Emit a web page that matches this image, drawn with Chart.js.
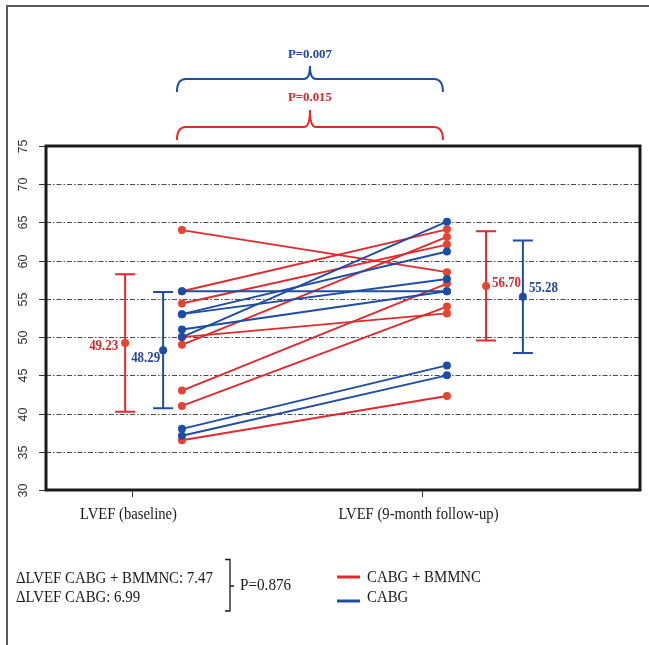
<!DOCTYPE html>
<html>
<head>
<meta charset="utf-8">
<script src="https://cdn.jsdelivr.net/npm/chart.js@4.4.1/dist/chart.umd.min.js"></script>
<style>
  html, body { margin: 0; padding: 0; background: #fff; }
  #wrap { width: 649px; height: 645px; }
</style>
</head>
<body>
<div id="wrap"><canvas id="c" width="649" height="645"></canvas></div>
<script>
// Time points and y-axis ticks
const timepoints = ['LVEF (baseline)', 'LVEF (9-month follow-up)'];
const yTicks = [30, 35, 40, 45, 50, 55, 60, 65, 70, 75];

// LVEF (%) per patient, baseline -> 9-month follow-up
const bmmncBaseline = [64.0, 56.0, 54.4, 50.0, 49.0, 43.0, 41.0, 36.5];
const bmmncFollowUp = [58.5, 64.1, 62.1, 53.1, 63.1, 57.0, 54.0, 42.3];
const cabgBaseline  = [56.0, 53.0, 53.0, 51.0, 50.0, 38.0, 37.1];
const cabgFollowUp  = [56.0, 61.2, 57.6, 56.0, 65.1, 46.3, 45.0];

// Group mean and standard deviation per time point
const bmmncMean = [49.23, 56.70];
const bmmncSD   = [9.0, 7.15];
const cabgMean  = [48.29, 55.28];
const cabgSD    = [7.6, 7.35];

// Statistics shown above and below the plot
const pBaselineVsFollowUp = { bmmnc: 'P=0.015', cabg: 'P=0.007' };
const deltaLVEF = { bmmnc: '7.47', cabg: '6.99' };
const pDelta = 'P=0.876';
const groupNames = ['CABG + BMMNC', 'CABG'];

// Horizontal placement on the linear x scale (time point ticks sit at 1 and 2)
const X_MIN = 0.703, X_MAX = 2.752;
const tickX = [1, 2];
const pairX = [1.172, 2.086];
const bmmncBarX = [0.976, 2.221];
const cabgBarX = [1.107, 2.348];

const RED = '#e02a2c', RED_PT = '#e8432f', RED_TXT = '#d52a2a';
const BLUE = '#1f4da3', BLUE_PT = '#1d4ca6', BLUE_TXT = '#23469b';
const SERIF = '"Liberation Serif", "Times New Roman", serif';
const SANS = '"Liberation Sans", Arial, sans-serif';

function pairDataset(b, f, color, ptColor, order) {
  return {
    data: [{ x: pairX[0], y: b }, { x: pairX[1], y: f }],
    showLine: true,
    borderColor: color,
    borderWidth: 1.9,
    pointRadius: 4,
    pointHoverRadius: 4,
    pointBackgroundColor: ptColor,
    pointBorderWidth: 0,
    order: order
  };
}

const datasets = [];
bmmncBaseline.forEach((b, i) => datasets.push(pairDataset(b, bmmncFollowUp[i], RED, RED_PT, 3)));
cabgBaseline.forEach((b, i) => datasets.push(pairDataset(b, cabgFollowUp[i], BLUE, BLUE_PT, 2)));
datasets.push({
  data: bmmncMean.map((m, i) => ({ x: bmmncBarX[i], y: m })),
  pointRadius: 4, pointHoverRadius: 4, pointBackgroundColor: RED_PT, pointBorderWidth: 0, order: 1
});
datasets.push({
  data: cabgMean.map((m, i) => ({ x: cabgBarX[i], y: m })),
  pointRadius: 4, pointHoverRadius: 4, pointBackgroundColor: BLUE_PT, pointBorderWidth: 0, order: 1
});

function text(ctx, s, x, y, font, color, align, sx) {
  ctx.save();
  ctx.font = font;
  ctx.fillStyle = color;
  ctx.textBaseline = 'middle';
  ctx.textAlign = align;
  ctx.translate(x, y);
  ctx.scale(sx === undefined ? 0.9 : sx, 1);
  ctx.fillText(s, 0, 0);
  ctx.restore();
}

function brace(ctx, x0, x1, yEnd, yH, yPeak, color) {
  const xc = (x0 + x1) / 2, r = 9, rc = 6;
  ctx.save();
  ctx.strokeStyle = color;
  ctx.lineWidth = 2;
  ctx.beginPath();
  ctx.moveTo(x0, yEnd);
  ctx.quadraticCurveTo(x0, yH, x0 + r, yH);
  ctx.lineTo(xc - rc, yH);
  ctx.quadraticCurveTo(xc, yH, xc, yPeak);
  ctx.quadraticCurveTo(xc, yH, xc + rc, yH);
  ctx.lineTo(x1 - r, yH);
  ctx.quadraticCurveTo(x1, yH, x1, yEnd);
  ctx.stroke();
  ctx.restore();
}

const decorations = {
  id: 'decorations',
  beforeDatasetsDraw(chart) {
    const { ctx, chartArea: a, scales: { x, y } } = chart;
    // dash-dot grid lines
    ctx.save();
    ctx.strokeStyle = '#4a4a4a';
    ctx.lineWidth = 1;
    ctx.setLineDash([5, 2, 1.5, 2]);
    yTicks.forEach(v => {
      if (v === yTicks[0] || v === yTicks[yTicks.length - 1]) return;
      const py = Math.round(y.getPixelForValue(v)) + 0.5;
      ctx.beginPath();
      ctx.moveTo(a.left, py);
      ctx.lineTo(a.right, py);
      ctx.stroke();
    });
    ctx.restore();

    // mean +/- SD whiskers
    const whisker = (bx, m, sd, color) => {
      const px = x.getPixelForValue(bx);
      const top = y.getPixelForValue(m + sd), bot = y.getPixelForValue(m - sd);
      ctx.save();
      ctx.strokeStyle = color;
      ctx.lineWidth = 2;
      ctx.beginPath();
      ctx.moveTo(px, top); ctx.lineTo(px, bot);
      ctx.moveTo(px - 10, top); ctx.lineTo(px + 10, top);
      ctx.moveTo(px - 10, bot); ctx.lineTo(px + 10, bot);
      ctx.stroke();
      ctx.restore();
    };
    [0, 1].forEach(i => {
      whisker(bmmncBarX[i], bmmncMean[i], bmmncSD[i], RED);
      whisker(cabgBarX[i], cabgMean[i], cabgSD[i], BLUE);
    });
  },
  afterDatasetsDraw(chart) {
    const { ctx, chartArea: a, scales: { x, y } } = chart;

    // mean labels
    const bold = 'bold 14px ' + SERIF;
    text(ctx, bmmncMean[0].toFixed(2), x.getPixelForValue(bmmncBarX[0]) - 7, y.getPixelForValue(bmmncMean[0]) + 3, bold, RED_TXT, 'right', 0.92);
    text(ctx, cabgMean[0].toFixed(2), x.getPixelForValue(cabgBarX[0]) - 3, y.getPixelForValue(cabgMean[0]) + 8, bold, BLUE_TXT, 'right', 0.92);
    text(ctx, bmmncMean[1].toFixed(2), x.getPixelForValue(bmmncBarX[1]) + 6, y.getPixelForValue(bmmncMean[1]) - 3, bold, RED_TXT, 'left', 0.92);
    text(ctx, cabgMean[1].toFixed(2), x.getPixelForValue(cabgBarX[1]) + 6, y.getPixelForValue(cabgMean[1]) - 8, bold, BLUE_TXT, 'left', 0.92);

    // plot frame
    ctx.save();
    ctx.strokeStyle = '#1a1a1a';
    ctx.lineWidth = 3;
    ctx.strokeRect(a.left, a.top, a.right - a.left, a.bottom - a.top);
    ctx.restore();

    // y axis ticks and rotated labels
    ctx.save();
    ctx.strokeStyle = '#333';
    ctx.lineWidth = 1;
    yTicks.forEach(v => {
      const py = Math.round(y.getPixelForValue(v)) + 0.5;
      ctx.beginPath();
      ctx.moveTo(a.left - 7, py); ctx.lineTo(a.left - 1, py);
      ctx.stroke();
      ctx.save();
      ctx.translate(24, py);
      ctx.rotate(-Math.PI / 2);
      ctx.font = '12.5px ' + SANS;
      ctx.fillStyle = '#2e2e2e';
      ctx.textAlign = 'center';
      ctx.textBaseline = 'middle';
      ctx.fillText(String(v), 0, 0);
      ctx.restore();
    });
    // x axis ticks and labels
    tickX.forEach((t, i) => {
      const px = Math.round(x.getPixelForValue(t)) + 0.5;
      ctx.beginPath();
      ctx.moveTo(px, a.bottom + 1); ctx.lineTo(px, a.bottom + 7);
      ctx.stroke();
      text(ctx, timepoints[i], px - 4, a.bottom + 25, '16.5px ' + SERIF, '#1a1a1a', 'center', 0.89);
    });
    ctx.restore();

    // significance braces above the plot
    const bx0 = x.getPixelForValue(pairX[0]) - 5, bx1 = x.getPixelForValue(pairX[1]) - 4;
    const bxc = (bx0 + bx1) / 2;
    brace(ctx, bx0, bx1, 92, 79, 66, BLUE);
    text(ctx, pBaselineVsFollowUp.cabg, bxc, 55, 'bold 13.5px ' + SERIF, BLUE_TXT, 'center', 0.95);
    brace(ctx, bx0, bx1, 140, 127, 110, RED);
    text(ctx, pBaselineVsFollowUp.bmmnc, bxc, 98, 'bold 13.5px ' + SERIF, RED_TXT, 'center', 0.95);

    // change in LVEF summary
    const body = '16.5px ' + SERIF;
    text(ctx, '\u0394LVEF ' + groupNames[0] + ': ' + deltaLVEF.bmmnc, 16, 579, body, '#1a1a1a', 'left', 0.9);
    text(ctx, '\u0394LVEF ' + groupNames[1] + ': ' + deltaLVEF.cabg, 16, 598, body, '#1a1a1a', 'left', 0.9);
    ctx.save();
    ctx.strokeStyle = '#1a1a1a';
    ctx.lineWidth = 1.3;
    ctx.beginPath();
    ctx.moveTo(225, 559.5); ctx.lineTo(230, 559.5); ctx.lineTo(230, 611); ctx.lineTo(225, 611);
    ctx.moveTo(230, 586); ctx.lineTo(234, 586);
    ctx.stroke();
    ctx.restore();
    text(ctx, pDelta, 240, 586, body, '#1a1a1a', 'left', 0.92);

    // legend
    ctx.save();
    ctx.lineWidth = 3;
    ctx.strokeStyle = RED;
    ctx.beginPath(); ctx.moveTo(337, 577); ctx.lineTo(360, 577); ctx.stroke();
    ctx.strokeStyle = BLUE;
    ctx.beginPath(); ctx.moveTo(337, 601); ctx.lineTo(360, 601); ctx.stroke();
    ctx.restore();
    text(ctx, groupNames[0], 367, 578, body, '#1a1a1a', 'left', 0.9);
    text(ctx, groupNames[1], 367, 598, body, '#1a1a1a', 'left', 0.9);

    // outer figure border (left and top)
    ctx.save();
    ctx.strokeStyle = '#5a5a5a';
    ctx.lineWidth = 2;
    ctx.beginPath();
    ctx.moveTo(7, 650); ctx.lineTo(7, 6); ctx.lineTo(655, 6);
    ctx.stroke();
    ctx.restore();
  }
};

new Chart(document.getElementById('c'), {
  type: 'scatter',
  data: { datasets },
  options: {
    responsive: false,
    animation: false,
    events: [],
    layout: { padding: { left: 46, top: 146, right: 9, bottom: 155 } },
    scales: {
      x: { type: 'linear', min: X_MIN, max: X_MAX, display: false },
      y: { type: 'linear', min: yTicks[0], max: yTicks[yTicks.length - 1], display: false }
    },
    plugins: { legend: { display: false }, tooltip: { enabled: false } }
  },
  plugins: [decorations]
});
</script>
</body>
</html>
